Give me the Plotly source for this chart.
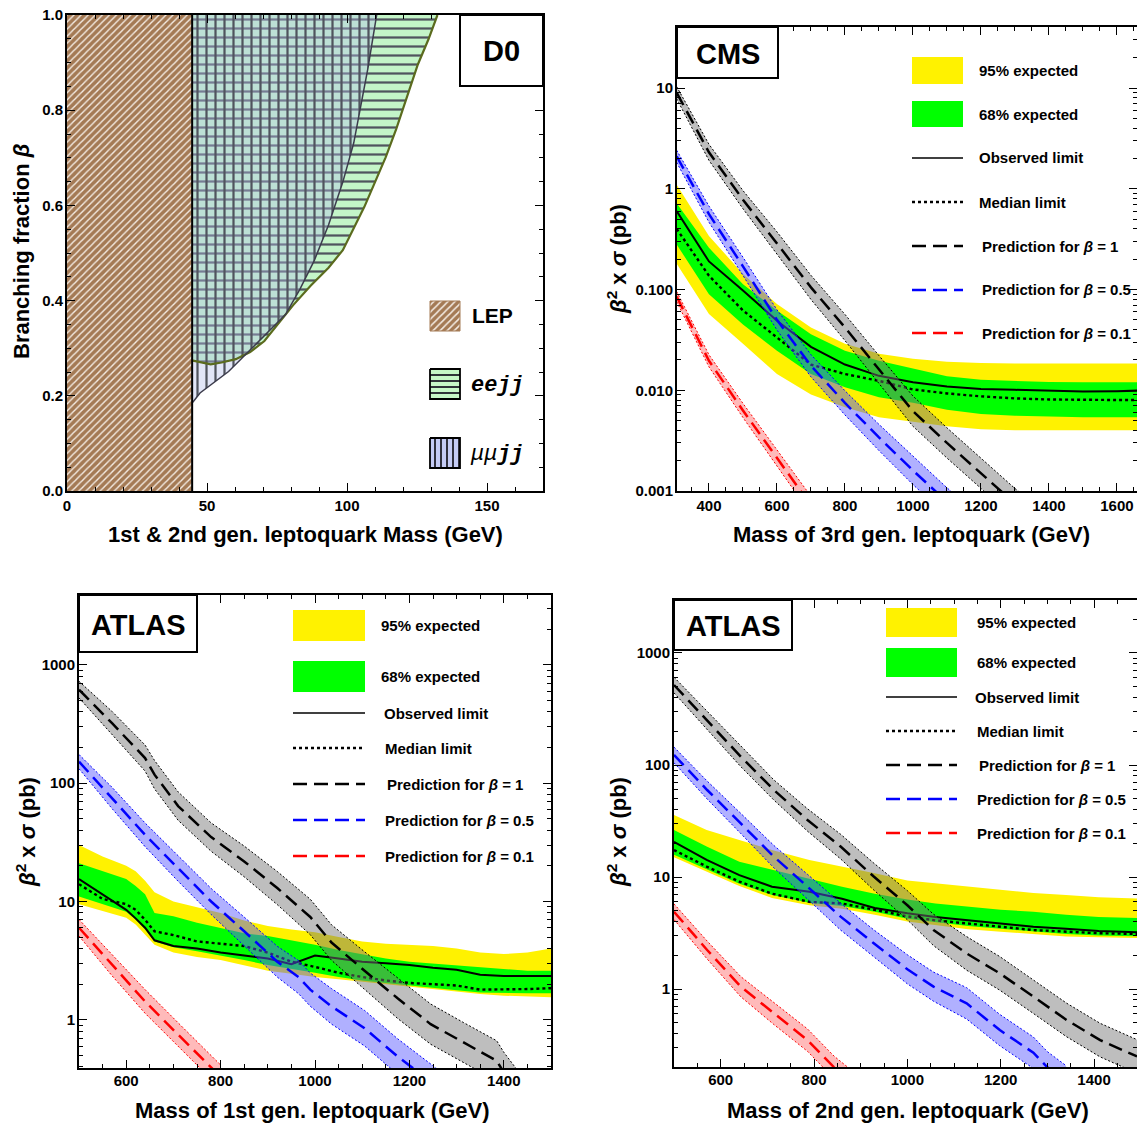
import plotly.graph_objects as go

W, H = 1137, 1123
FONT = "Liberation Sans, Arial, Helvetica, sans-serif"
MONO = "Liberation Mono, DejaVu Sans Mono, monospace"

# ---------------- D0 panel ----------------
lep_limit = 44.7
ee_mass = [44.7, 45.0, 51.3, 55.2, 60.3, 65.4, 70.5, 75.6, 80.7, 87.0, 93.4, 98.5, 102.4,
           106.2, 110.0, 113.8, 117.6, 121.5, 125.3, 129.1, 132.3]
ee_beta = [0.274, 0.274, 0.266, 0.270, 0.277, 0.292, 0.315, 0.353, 0.390, 0.431, 0.469, 0.506,
           0.551, 0.597, 0.649, 0.701, 0.761, 0.829, 0.896, 0.949, 1.0]
mu_mass = [44.7, 45.0, 47.5, 52.6, 57.7, 62.8, 67.9, 73.0, 78.1, 83.2, 88.3, 93.4, 98.5,
           102.4, 104.9, 107.5, 109.4, 110.6]
mu_beta = [0.187, 0.187, 0.206, 0.229, 0.251, 0.281, 0.311, 0.340, 0.371, 0.424, 0.484, 0.559,
           0.649, 0.731, 0.806, 0.889, 0.957, 1.0]

# ---------------- CMS 3rd gen ----------------
cms_mass = [305, 400, 500, 600, 700, 800, 900, 1000, 1100, 1200, 1300, 1400, 1500, 1600, 1700]
cms_exp95_hi = [1.1, 0.34, 0.143, 0.072, 0.042, 0.029, 0.023, 0.0205, 0.0192, 0.0186, 0.0184,
                0.0183, 0.0184, 0.0184, 0.0184]
cms_exp68_hi = [0.72, 0.26, 0.113, 0.062, 0.036, 0.0247, 0.0196, 0.0165, 0.0138, 0.0127, 0.0123,
                0.0121, 0.012, 0.012, 0.012]
cms_observed = [0.6, 0.19, 0.098, 0.049, 0.027, 0.018, 0.0139, 0.012, 0.0109, 0.0103, 0.0101,
                0.0099, 0.0097, 0.0098, 0.0100]
cms_median = [0.4, 0.137, 0.062, 0.0335, 0.018, 0.0145, 0.0124, 0.0102, 0.0093, 0.0087, 0.0083,
              0.0081, 0.0080, 0.0080, 0.0080]
cms_exp68_lo = [0.28, 0.09, 0.045, 0.0247, 0.0145, 0.0107, 0.0085, 0.0075, 0.0064, 0.0058,
                0.0056, 0.0055, 0.0054, 0.0054, 0.0054]
cms_exp95_lo = [0.18, 0.057, 0.029, 0.0145, 0.0091, 0.0068, 0.0054, 0.0049, 0.0044, 0.0041,
                0.0040, 0.0040, 0.0040, 0.0040, 0.0040]
cms_b1_mass = [305, 400, 500, 600, 700, 800, 900, 1000, 1100, 1200, 1300, 1400]
cms_b1 = [9.0, 2.3, 0.78, 0.29, 0.105, 0.042, 0.016, 0.0062, 0.0030, 0.0015, 0.00075, 0.0004]
cms_b1_unc = [0.06, 0.08, 0.09, 0.11, 0.12, 0.13, 0.14, 0.15, 0.15, 0.15, 0.15, 0.15]
cms_b05_mass = [305, 400, 500, 600, 700, 800, 900, 1000, 1100, 1200]
cms_b05 = [2.1, 0.56, 0.17, 0.05, 0.0175, 0.0075, 0.0034, 0.0016, 0.00078, 0.0004]
cms_b05_unc = [0.06, 0.08, 0.09, 0.10, 0.11, 0.12, 0.13, 0.14, 0.14, 0.14]
cms_b01_mass = [305, 400, 500, 600, 700, 800]
cms_b01 = [0.085, 0.0196, 0.0063, 0.0021, 0.00072, 0.00026]
cms_b01_unc = [0.05, 0.06, 0.07, 0.08, 0.09, 0.09]

# ---------------- ATLAS 1st gen ----------------
a1_mass = [500, 550, 600, 620, 640, 660, 700, 750, 800, 850, 900, 950, 1000, 1050, 1100, 1150,
           1200, 1250, 1300, 1350, 1400, 1450, 1500]
a1_exp95_hi = [30, 24, 20, 18, 15, 12, 10, 9.0, 8.0, 6.9, 6.2, 5.8, 5.5, 5.0, 4.6, 4.4, 4.3, 4.2,
               4.0, 3.7, 3.6, 3.7, 4.0]
a1_exp68_hi = [21, 18, 15.5, 13.5, 11.5, 8.0, 7.5, 6.6, 6.0, 5.4, 5.1, 4.7, 4.3, 3.9, 3.6, 3.3,
               3.1, 3.0, 2.9, 2.8, 2.7, 2.6, 2.6]
a1_observed = [15.5, 11.5, 8.5, 7.2, 6.0, 4.7, 4.2, 4.0, 3.7, 3.5, 3.3, 2.95, 3.5, 3.3, 3.1, 3.0,
               2.9, 2.75, 2.65, 2.4, 2.35, 2.35, 2.35]
a1_median = [14, 10.5, 9.5, 8.5, 7.0, 5.6, 5.2, 4.6, 4.4, 4.2, 3.7, 3.1, 2.8, 2.5, 2.3, 2.15,
             2.05, 2.0, 1.95, 1.8, 1.8, 1.82, 1.85]
a1_exp68_lo = [11, 9.5, 8.2, 7.0, 5.8, 4.6, 4.1, 3.8, 3.5, 3.2, 2.9, 2.7, 2.5, 2.3, 2.15, 2.05,
               1.95, 1.85, 1.78, 1.7, 1.68, 1.68, 1.68]
a1_exp95_lo = [9.5, 8.3, 7.3, 6.4, 5.3, 4.3, 3.7, 3.4, 3.2, 2.9, 2.6, 2.45, 2.3, 2.2, 2.1, 2.0,
               1.9, 1.8, 1.72, 1.65, 1.6, 1.58, 1.55]
a1_b1_mass = [500, 570, 640, 660, 710, 780, 850, 920, 990, 1035, 1105, 1175, 1245, 1315, 1385,
              1400, 1430]
a1_b1 = [617, 321, 163, 118, 64, 35, 21.8, 13, 7.4, 4.5, 2.6, 1.52, 0.92, 0.64, 0.45, 0.36, 0.25]
a1_b1_unc = [0.07, 0.10, 0.11, 0.12, 0.12, 0.12, 0.13, 0.14, 0.15, 0.15, 0.16, 0.17, 0.17, 0.17,
             0.17, 0.17, 0.17]
a1_b05_mass = [500, 570, 640, 710, 780, 850, 920, 965, 990, 1035, 1105, 1175, 1220, 1260]
a1_b05 = [152, 75, 36.6, 19.1, 10, 5.6, 3.1, 2.3, 1.8, 1.3, 0.85, 0.49, 0.36, 0.27]
a1_b05_unc = [0.06, 0.09, 0.10, 0.11, 0.11, 0.12, 0.13, 0.14, 0.14, 0.15, 0.15, 0.15, 0.15, 0.15]
a1_b01_mass = [500, 570, 640, 710, 767, 800]
a1_b01 = [6.0, 2.9, 1.43, 0.75, 0.445, 0.33]
a1_b01_unc = [0.07, 0.09, 0.10, 0.10, 0.10, 0.10]

# ---------------- ATLAS 2nd gen ----------------
a2_mass = [500, 570, 640, 710, 790, 860, 930, 1000, 1060, 1130, 1200, 1270, 1340, 1410, 1500]
a2_exp95_hi = [35.8, 26.3, 21.4, 17.4, 14.2, 12.4, 10.8, 9.3, 8.8, 8.2, 7.65, 7.2, 6.9, 6.6, 6.4]
a2_exp68_hi = [26.3, 18.7, 13.7, 11.6, 9.7, 8.2, 7.1, 6.3, 5.8, 5.4, 5.1, 4.9, 4.6, 4.4, 4.3]
a2_observed = [20.6, 14.2, 10.4, 8.2, 7.4, 6.4, 5.3, 4.75, 4.4, 4.1, 3.85, 3.6, 3.45, 3.3, 3.2]
a2_median = [17.4, 12.4, 9.1, 7.1, 6.0, 5.8, 5.1, 4.45, 4.1, 3.86, 3.6, 3.36, 3.25, 3.15, 3.1]
a2_exp68_lo = [15.8, 11.8, 8.7, 6.9, 5.9, 5.5, 4.9, 4.25, 3.95, 3.65, 3.45, 3.25, 3.1, 3.0, 2.95]
a2_exp95_lo = [15.0, 11.2, 8.3, 6.5, 5.6, 5.2, 4.6, 4.0, 3.7, 3.42, 3.25, 3.1, 2.95, 2.9, 2.85]
a2_b1_mass = [500, 571, 643, 714, 786, 857, 928, 1000, 1056, 1127, 1198, 1270, 1341, 1413, 1492]
a2_b1 = [518, 252, 119, 59.8, 32.3, 18.7, 10.1, 5.6, 3.37, 2.08, 1.38, 0.855, 0.53, 0.35, 0.25]
a2_b1_unc = [0.07, 0.08, 0.09, 0.09, 0.10, 0.11, 0.12, 0.13, 0.14, 0.15, 0.15, 0.15, 0.15, 0.15,
             0.15]
a2_b05_mass = [500, 571, 643, 714, 786, 857, 928, 1000, 1056, 1127, 1198, 1270, 1300, 1340]
a2_b05 = [123, 59.8, 30.1, 15.2, 8.2, 4.43, 2.56, 1.5, 1.05, 0.745, 0.43, 0.27, 0.2, 0.15]
a2_b05_unc = [0.07, 0.08, 0.09, 0.10, 0.11, 0.12, 0.12, 0.13, 0.13, 0.14, 0.14, 0.14, 0.14, 0.14]
a2_b01_mass = [500, 571, 643, 714, 786, 843, 880]
a2_b01 = [4.9, 2.23, 1.05, 0.607, 0.35, 0.2, 0.15]
a2_b01_unc = [0.07, 0.08, 0.09, 0.10, 0.10, 0.10, 0.10]

legend_labels = ["95% expected", "68% expected", "Observed limit", "Median limit",
                 "Prediction for <i>β</i> = 1", "Prediction for <i>β</i> = 0.5",
                 "Prediction for <i>β</i> = 0.1"]

# ---------------- styling ----------------
YELLOW = "#fff200"
GREEN = "#00ff00"
GRAY_BAND = "rgba(120,120,120,0.48)"
BLUE_BAND = "rgba(90,90,255,0.48)"
RED_BAND = "rgba(255,90,90,0.42)"
DASH_LONG = "14px,7px"
DOT = "3px,3px"
EDGE_DOT = "2px,2px"
EE_BG = "#c4f5c8"
MU_BG = "rgba(180,190,235,0.38)"
HATCH = "#50545e"
LEP_BG = "#a47a55"
LEP_FG = "#f4ece4"

fig = go.Figure()


def xp(p):
    return p / W


def yp(p):
    return 1 - p / H


def add_band(x, lo, hi, ax, fill, edge=None):
    lw = 1 if edge else 0
    lc = edge if edge else "rgba(0,0,0,0)"
    fig.add_trace(go.Scatter(x=x, y=lo, xaxis="x" + ax, yaxis="y" + ax, mode="lines",
                             line=dict(width=lw, color=lc, dash=EDGE_DOT),
                             hoverinfo="skip", showlegend=False))
    fig.add_trace(go.Scatter(x=x, y=hi, xaxis="x" + ax, yaxis="y" + ax, mode="lines",
                             line=dict(width=lw, color=lc, dash=EDGE_DOT), fill="tonexty",
                             fillcolor=fill, hoverinfo="skip", showlegend=False))


def add_line(x, y, ax, color, dash, width):
    fig.add_trace(go.Scatter(x=x, y=y, xaxis="x" + ax, yaxis="y" + ax, mode="lines",
                             line=dict(color=color, dash=dash, width=width),
                             hoverinfo="skip", showlegend=False))


def add_pred(x, c, unc, ax, band, col):
    lo = [v / 10 ** u for v, u in zip(c, unc)]
    hi = [v * 10 ** u for v, u in zip(c, unc)]
    add_band(x, lo, hi, ax, band, edge=col)
    add_line(x, c, ax, col, DASH_LONG, 2.5)


def limit_panel(ax, m, y95h, y68h, obs, med, y68l, y95l, preds):
    add_band(m, y95l, y95h, ax, YELLOW)
    add_band(m, y68l, y68h, ax, GREEN)
    add_line(m, obs, ax, "black", "solid", 2)
    add_line(m, med, ax, "black", DOT, 2.4)
    for (x, c, u, band, col) in preds:
        add_pred(x, c, u, ax, band, col)


# ---- D0 ----
fig.add_trace(go.Scatter(x=ee_mass + [lep_limit], y=ee_beta + [1.0], xaxis="x", yaxis="y",
                         mode="lines", line=dict(width=0), fill="toself", fillcolor=EE_BG,
                         fillpattern=dict(shape="-", bgcolor=EE_BG, fgcolor=HATCH,
                                          size=9, solidity=0.25, fillmode="replace"),
                         hoverinfo="skip", showlegend=False))
fig.add_trace(go.Scatter(x=mu_mass + [lep_limit], y=mu_beta + [1.0], xaxis="x", yaxis="y",
                         mode="lines", line=dict(width=0), fill="toself", fillcolor=MU_BG,
                         fillpattern=dict(shape="|", bgcolor=MU_BG, fgcolor=HATCH, size=9,
                                          solidity=0.25, fillmode="replace"),
                         hoverinfo="skip", showlegend=False))
add_line(ee_mass, ee_beta, "", "#5b6b1e", "solid", 2.2)
add_line(mu_mass, mu_beta, "", "#3c3c4c", "solid", 1.5)
fig.add_trace(go.Scatter(x=[0, lep_limit, lep_limit, 0, 0], y=[0, 0, 1, 1, 0], xaxis="x",
                         yaxis="y", mode="lines", line=dict(width=0), fill="toself",
                         fillcolor=LEP_BG,
                         fillpattern=dict(shape="/", bgcolor=LEP_BG, fgcolor=LEP_FG,
                                          size=5, solidity=0.28, fillmode="replace"),
                         hoverinfo="skip", showlegend=False))
add_line([lep_limit, lep_limit], [0, 1], "", "black", "solid", 2)

# ---- CMS ----
limit_panel("2", cms_mass, cms_exp95_hi, cms_exp68_hi, cms_observed, cms_median, cms_exp68_lo,
            cms_exp95_lo,
            [(cms_b1_mass, cms_b1, cms_b1_unc, GRAY_BAND, "black"),
             (cms_b05_mass, cms_b05, cms_b05_unc, BLUE_BAND, "#0000ff"),
             (cms_b01_mass, cms_b01, cms_b01_unc, RED_BAND, "#ff0000")])
# ---- ATLAS 1st ----
limit_panel("3", a1_mass, a1_exp95_hi, a1_exp68_hi, a1_observed, a1_median, a1_exp68_lo,
            a1_exp95_lo,
            [(a1_b1_mass, a1_b1, a1_b1_unc, GRAY_BAND, "black"),
             (a1_b05_mass, a1_b05, a1_b05_unc, BLUE_BAND, "#0000ff"),
             (a1_b01_mass, a1_b01, a1_b01_unc, RED_BAND, "#ff0000")])
# ---- ATLAS 2nd ----
limit_panel("4", a2_mass, a2_exp95_hi, a2_exp68_hi, a2_observed, a2_median, a2_exp68_lo,
            a2_exp95_lo,
            [(a2_b1_mass, a2_b1, a2_b1_unc, GRAY_BAND, "black"),
             (a2_b05_mass, a2_b05, a2_b05_unc, BLUE_BAND, "#0000ff"),
             (a2_b01_mass, a2_b01, a2_b01_unc, RED_BAND, "#ff0000")])


# ---- D0 legend swatches (overlay pixel axes) ----
def swatch(x0, y0, x1, y1, shape, bg, fg, size, sol, border):
    fig.add_trace(go.Scatter(x=[x0, x1, x1, x0, x0], y=[y0, y0, y1, y1, y0], xaxis="x5",
                             yaxis="y5", mode="lines",
                             line=dict(width=1.8 if border else 1, color=border or bg),
                             fill="toself", fillcolor=bg,
                             fillpattern=dict(shape=shape, bgcolor=bg, fgcolor=fg, size=size,
                                              solidity=sol, fillmode="replace"),
                             hoverinfo="skip", showlegend=False))


swatch(430, 301, 460, 331, "/", LEP_BG, LEP_FG, 5, 0.3, None)
swatch(430, 369, 460, 399, "-", "#c6f7c6", "#1e1e28", 6, 0.3, "black")
swatch(430, 438, 460, 468, "|", "#c4cbf5", "#1e1e28", 6, 0.3, "black")

# ---------------- layout ----------------
common = dict(showline=True, linecolor="black", linewidth=2, mirror="allticks", ticks="inside",
              ticklen=8, tickwidth=1.3, tickcolor="black", showgrid=False, zeroline=False,
              automargin=False,
              tickfont=dict(family=FONT, size=15, color="black", weight="bold"))


def lin_axis(dom, rng, dtick, mdtick, anchor, standoff, fmt=None):
    d = dict(domain=dom, range=rng, type="linear", dtick=dtick, tick0=0, anchor=anchor,
             minor=dict(dtick=mdtick, ticks="inside", ticklen=4, tickwidth=1,
                        tickcolor="black", showgrid=False),
             ticklabelstandoff=standoff, **common)
    if fmt:
        d["tickformat"] = fmt
    return d


def log_axis(dom, rng, vals, texts, anchor, standoff):
    minors = [m * v for v in vals + [vals[-1] * 10, vals[0] / 10] for m in range(2, 10)]
    return dict(domain=dom, range=rng, type="log", tickvals=vals, ticktext=texts,
                anchor=anchor, ticklabelstandoff=standoff,
                minor=dict(tickvals=minors, ticks="inside", ticklen=4, tickwidth=1,
                           tickcolor="black", showgrid=False),
                **common)


layout = dict(
    width=W, height=H, autosize=False,
    margin=dict(l=0, r=0, t=0, b=0, pad=0, autoexpand=False),
    paper_bgcolor="white",
    plot_bgcolor="rgba(0,0,0,0)", showlegend=False, font=dict(family=FONT, color="black"),
    xaxis=lin_axis([xp(67), xp(543)], [0, 170], 50, 10, "y", 0),
    yaxis=lin_axis([yp(491), yp(15)], [0, 1], 0.2, 0.05, "x", -1, ".1f"),
    xaxis2=lin_axis([xp(677), 1.0], [306, 1659], 200, 50, "y2", 0),
    yaxis2=log_axis([yp(491), yp(27)], [-3, 1.606], [0.001, 0.01, 0.1, 1, 10],
                    ["0.001", "0.010", "0.100", "1", "10"], "x2", -1),
    xaxis3=lin_axis([xp(79), xp(551)], [500, 1500], 200, 50, "y3", -2),
    yaxis3=log_axis([yp(1068), yp(595)], [-0.407, 3.59], [1, 10, 100, 1000],
                    ["1", "10", "100", "1000"], "x3", -1),
    xaxis4=lin_axis([xp(674), 1.0], [500, 1492], 200, 50, "y4", -2),
    yaxis4=log_axis([yp(1067), yp(600)], [-0.696, 3.473], [1, 10, 100, 1000],
                    ["1", "10", "100", "1000"], "x4", -1),
    xaxis5=dict(domain=[0, 1], range=[0, W], visible=False, anchor="y5", fixedrange=True,
                automargin=False),
    yaxis5=dict(domain=[0, 1], range=[H, 0], visible=False, anchor="x5", fixedrange=True,
                automargin=False),
)

shapes = []
annots = []


def text(x, y, s, size, xanchor="left", angle=0, family=FONT):
    annots.append(dict(x=xp(x), y=yp(y), xref="paper", yref="paper", text=s, showarrow=False,
                       xanchor=xanchor, yanchor="middle", textangle=angle,
                       font=dict(family=family, size=size, color="black")))


def box(x0, y0, x1, y1, label):
    shapes.append(dict(type="rect", xref="paper", yref="paper", x0=xp(x0), x1=xp(x1),
                       y0=yp(y1), y1=yp(y0), fillcolor="white",
                       line=dict(color="black", width=2), layer="above"))
    text((x0 + x1) / 2, (y0 + y1) / 2 + 1, "<b>%s</b>" % label, 29, "center")


def std_legend(sx0, sx1, y95, y68, ylines, tx):
    shapes.append(dict(type="rect", xref="paper", yref="paper", x0=xp(sx0), x1=xp(sx1),
                       y0=yp(y95[1]), y1=yp(y95[0]), fillcolor=YELLOW, line=dict(width=0),
                       layer="above"))
    shapes.append(dict(type="rect", xref="paper", yref="paper", x0=xp(sx0), x1=xp(sx1),
                       y0=yp(y68[1]), y1=yp(y68[0]), fillcolor=GREEN, line=dict(width=0),
                       layer="above"))
    styles = [("black", "solid", 1.5), ("black", DOT, 2.4), ("black", DASH_LONG, 2.5),
              ("#0000ff", DASH_LONG, 2.5), ("#ff0000", DASH_LONG, 2.5)]
    for yy, (c, d, w) in zip(ylines, styles):
        shapes.append(dict(type="line", xref="paper", yref="paper", x0=xp(sx0), x1=xp(sx1),
                           y0=yp(yy), y1=yp(yy), line=dict(color=c, dash=d, width=w),
                           layer="above"))
    ys = [(y95[0] + y95[1]) / 2, (y68[0] + y68[1]) / 2] + ylines
    for lab, yy, x in zip(legend_labels, ys, tx):
        text(x, yy, "<b>%s</b>" % lab, 15)


# panel boxes
box(460, 15, 543, 86, "D0")
box(677, 27, 778, 78, "CMS")
box(79, 595, 197, 652, "ATLAS")
box(674, 600, 792, 650, "ATLAS")

# legends
std_legend(912, 963, (57, 84), (101, 127), [158, 202, 246, 290, 333],
           [977, 977, 977, 977, 980, 980, 980])
std_legend(293, 365, (610, 641), (661, 692), [713, 748, 784, 820, 856],
           [379, 379, 382, 383, 385, 383, 383])
std_legend(886, 957, (608, 637), (648, 677), [697, 731, 765, 799, 833],
           [975, 975, 973, 975, 977, 975, 975])

# D0 legend text
text(470, 316, "<b>LEP</b>", 21)
text(469, 385, "<b><i>eejj</i></b>", 22, family=MONO)
text(468, 454, "<i>μμ</i><b><i>jj</i></b>", 22, family=MONO)

# axis titles
text(305, 534, "<b>1st &amp; 2nd gen. leptoquark Mass (GeV)</b>", 22, "center")
text(21, 252, "<b>Branching fraction <i>β</i></b>", 22, "center", -90)
text(911, 534, "<b>Mass of 3rd gen. leptoquark (GeV)</b>", 22, "center")
text(617, 259, "<b><i>β</i><sup>2</sup> x <i>σ</i> (pb)</b>", 22, "center", -90)
text(312, 1110, "<b>Mass of 1st gen. leptoquark (GeV)</b>", 22, "center")
text(26, 832, "<b><i>β</i><sup>2</sup> x <i>σ</i> (pb)</b>", 22, "center", -90)
text(908, 1110, "<b>Mass of 2nd gen. leptoquark (GeV)</b>", 22, "center")
text(617, 832, "<b><i>β</i><sup>2</sup> x <i>σ</i> (pb)</b>", 22, "center", -90)

layout["shapes"] = shapes
layout["annotations"] = annots
fig.update_layout(**layout)
fig.write_html("out.html")
